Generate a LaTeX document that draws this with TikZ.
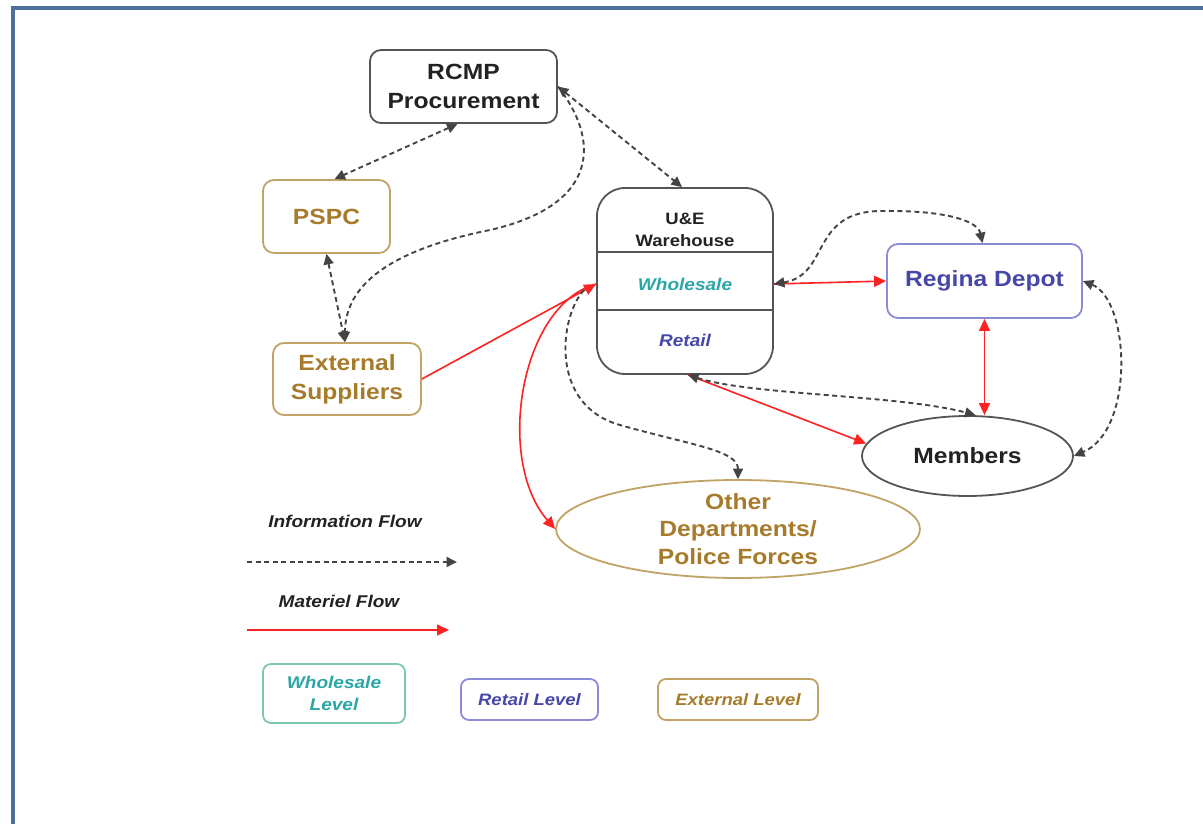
\documentclass[tikz,border=0pt]{standalone}
\usepackage{fontspec}
\setmainfont{Liberation Sans}[FakeStretch=1.12]
\usetikzlibrary{arrows.meta,calc,shapes.geometric}
\definecolor{gold}{HTML}{A67B2B}
\definecolor{tanb}{HTML}{C2A366}
\definecolor{teal1}{HTML}{2BA6A6}
\definecolor{mint}{HTML}{7CC9AA}
\definecolor{indig}{HTML}{4747A8}
\definecolor{lav}{HTML}{8C8CD6}
\definecolor{dk}{HTML}{222222}
\definecolor{gr}{HTML}{555555}
\definecolor{dashc}{HTML}{444444}
\definecolor{flowred}{HTML}{FF2222}
\definecolor{frameblue}{HTML}{4E6E9E}
\begin{document}
\begin{tikzpicture}[x=1pt,y=-1pt,
  box/.style={draw=gr, line width=1.8pt, rounded corners=11pt, align=center, inner sep=0pt},
  big/.style={font=\fontsize{22}{29}\selectfont\bfseries},
  mid/.style={font=\fontsize{17}{22}\selectfont\bfseries\itshape},
  tipb/.tip={Triangle[length=10.5pt,width=10pt]},
  tipr/.tip={Triangle[length=12pt,width=11pt]},
  info/.style={draw=dashc, line width=1.9pt, dash pattern=on 5pt off 3.5pt, -tipb},
  infoboth/.style={info, tipb-tipb},
  mat/.style={draw=flowred, line width=1.6pt, -tipr},
  matboth/.style={mat, tipr-tipr}]
\useasboundingbox (0,0) rectangle (1203,824);
\coordinate (fa) at (13,8);
\coordinate (fb) at (1240,860);
\draw[frameblue, line width=3.5pt] (fa) rectangle (fb);

% nodes
\node[box, minimum width=187pt, minimum height=73pt, text=dk, big] (rcmp) at (463.5,86.5) {RCMP\\Procurement};
\node[box, draw=tanb, text=gold, big, minimum width=127pt, minimum height=73pt] (pspc) at (326.5,216.5) {PSPC};
\node[box, draw=tanb, text=gold, big, minimum width=148pt, minimum height=72pt] (ext) at (347,379) {External\\Suppliers};

\node[box, rounded corners=28pt, minimum width=176pt, minimum height=186pt] (wh) at (685,281) {};
\coordinate (d1) at (685,252);
\coordinate (d2) at (685,310);
\draw[gr, line width=1.8pt] (wh.west |- d1) -- (wh.east |- d1);
\draw[gr, line width=1.8pt] (wh.west |- d2) -- (wh.east |- d2);
\node[font=\fontsize{16.5}{22}\selectfont\bfseries, text=dk, align=center] (whtitle) at (685,230) {U\&E\\Warehouse};
\node[mid, text=teal1] (whl) at (685,284) {Wholesale};
\node[mid, text=indig] (ret) at (685,340) {Retail};
\coordinate (wl) at (wh.west |- whl);
\coordinate (wr) at (wh.east |- whl);

\node[box, draw=lav, text=indig, big, minimum width=195pt, minimum height=74pt] (regina) at (984.5,281) {Regina Depot};
\node[ellipse, draw=gr, line width=1.8pt, minimum width=211pt, minimum height=80pt, big, text=dk, inner sep=0pt] (members) at (967.5,456) {Members};
\node[ellipse, draw=tanb, line width=1.8pt, minimum width=364pt, minimum height=98pt, inner sep=0pt] (other) at (738,529) {};
\node[font=\fontsize{22}{27.5}\selectfont\bfseries, text=gold, align=center] (othertxt) at (738,529) {Other\\Departments/\\Police Forces};

% legend
\node[mid, text=dk] (infolbl) at (345,521) {Information Flow};
\coordinate (ia) at (247,562);
\coordinate (ib) at (457,562);
\draw[info] (ia) -- (ib);
\node[mid, text=dk] (matlbl) at (339,601) {Materiel Flow};
\coordinate (ma) at (247,630);
\coordinate (mb) at (449,630);
\draw[mat] (ma) -- (mb);

\node[box, draw=mint, text=teal1, rounded corners=8pt, minimum width=142pt, minimum height=59pt, font=\fontsize{17}{22}\selectfont\bfseries\itshape] (lw) at (334,693.5) {Wholesale\\Level};
\node[box, draw=lav, text=indig, rounded corners=8pt, minimum width=137pt, minimum height=41pt, font=\fontsize{16.5}{22}\selectfont\bfseries\itshape] (lr) at (529.5,699.5) {Retail Level};
\node[box, draw=tanb, text=gold, rounded corners=8pt, minimum width=160pt, minimum height=41pt, font=\fontsize{16.5}{22}\selectfont\bfseries\itshape] (le) at (738,699.5) {External Level};

% connectors
\draw[infoboth] ([xshift=-6pt]rcmp.south) -- ([xshift=8pt]pspc.north);
\draw[infoboth] (rcmp.east) -- ([xshift=-3pt]wh.north);
\draw[info] (rcmp.east) .. controls (600,140) and (600,205) .. (490,230) .. controls (390,250) and (345,285) .. ([xshift=-2pt]ext.north);
\draw[infoboth] (pspc.south) -- ([xshift=-2pt]ext.north);

\draw[mat] (ext.east) -- (wl);
\draw[mat] (wl) .. controls (520,305) and (495,460) .. (other.west);
\draw[info] ([shift={(-12pt,-6pt)}]wl) .. controls (560,315) and (548,405) .. (620,425) .. controls (690,445) and (738,450) .. (other.north);

\draw[mat] (wr) -- (regina.west);
\draw[infoboth] (wr) .. controls (830,275) and (810,212) .. (880,211) .. controls (950,210) and (978,222) .. ([xshift=-2pt]regina.north);
\draw[matboth] (regina.south) -- (regina.south |- members.north);
\draw[infoboth] (regina.east) .. controls (1130,300) and (1135,430) .. (members.east);

\draw[mat] ([xshift=3pt]wh.south) -- (members.173);
\draw[infoboth] ([xshift=3pt]wh.south) .. controls (750,395) and (900,395) .. ([xshift=8pt]members.north);
\end{tikzpicture}
\end{document}
